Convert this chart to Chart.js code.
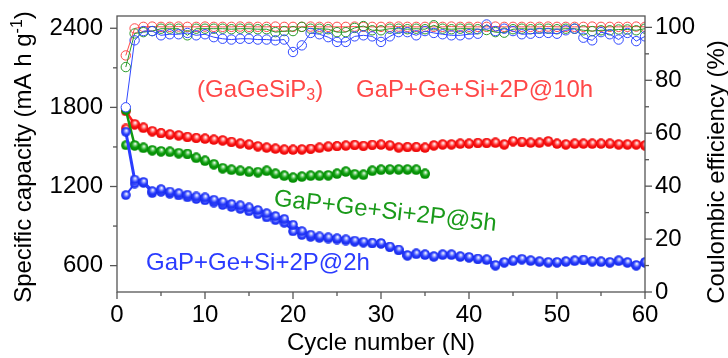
<!DOCTYPE html>
<html><head><meta charset="utf-8">
<script src="https://cdn.jsdelivr.net/npm/chart.js@4.4.0/dist/chart.umd.min.js"></script>
<style>html,body{margin:0;padding:0;background:#fff;}#wrap{width:728px;height:358px;}</style>
</head><body><div id="wrap"><canvas id="c" width="728" height="358"></canvas></div>
<script>
// ---------- data ----------
const cycles = [1,2,3,4,5,6,7,8,9,10,11,12,13,14,15,16,17,18,19,20,21,22,23,24,25,26,27,28,29,30,
                31,32,33,34,35,36,37,38,39,40,41,42,43,44,45,46,47,48,49,50,51,52,53,54,55,56,57,58,59,60];

const red10hDischarge = [1770,1675,1648,1622,1607,1597,1590,1578,1570,1565,
 1557,1552,1540,1528,1521,1507,1497,1489,1482,1481,
 1483,1488,1496,1505,1508,1512,1517,1510,1518,1520,
 1514,1498,1501,1501,1496,1514,1521,1521,1527,1527,
 1532,1532,1534,1521,1546,1540,1534,1534,1545,1527,
 1521,1527,1527,1527,1527,1527,1521,1521,1521,1514];
const red10hCharge = [1640,1668,1642,1617,1602,1592,1585,1573,1566,1560,
 1553,1547,1536,1524,1516,1503,1493,1485,1478,1477,
 1479,1484,1491,1500,1504,1508,1512,1506,1513,1515,
 1509,1494,1497,1496,1492,1509,1516,1517,1522,1523,
 1527,1528,1529,1517,1541,1535,1530,1529,1540,1523,
 1517,1522,1523,1522,1523,1522,1517,1516,1517,1510];

const green5hDischarge = [1780,1515,1496,1478,1470,1466,1456,1450,1420,1398,
 1372,1342,1330,1322,1315,1312,1322,1300,1285,1270,
 1278,1285,1285,1288,1300,1316,1296,1292,1322,1330,
 1332,1332,1332,1330,1299];
const green5hCharge = [1513,1508,1490,1472,1464,1460,1450,1444,1414,1392,
 1366,1336,1324,1316,1309,1306,1316,1294,1279,1264,
 1272,1279,1279,1282,1294,1310,1290,1286,1316,1324,
 1326,1326,1326,1324,1293];

const blue2hDischarge = [1615,1253,1235,1165,1180,1162,1150,1138,1125,1118,
 1100,1085,1068,1058,1042,1022,998,976,955,910,
 862,835,822,815,808,800,790,782,774,772,
 745,722,680,692,686,672,686,686,672,666,
 654,648,605,628,640,652,641,634,628,628,
 634,640,646,636,633,628,640,627,605,627];
const blue2hCharge = [1135,1222,1228,1150,1160,1145,1132,1118,1105,1095,
 1078,1060,1045,1030,1012,990,965,945,925,860,
 832,818,810,805,798,790,782,775,768,765,
 740,716,675,686,680,667,680,680,666,660,
 648,642,600,622,634,646,635,628,622,622,
 628,634,640,630,627,622,634,621,600,621];

const red10hCE = [89.4,99.6,100.2,100.3,100.2,100.2,100.3,100.2,100.2,100.3,
 100.2,100.2,100.2,100.3,100.2,100.2,100.2,100.3,100.2,100.2,
 100.2,100.3,100.2,100.2,100.2,100.2,100.3,100.2,100.2,100.2,
 100.2,100.3,100.2,100.2,100.2,100.2,100.2,100.3,100.2,100.2,
 100.2,100.2,100.3,100.2,100.2,100.2,100.2,100.2,100.3,100.2,
 100.2,100.2,100.2,100.3,100.2,100.2,100.2,100.2,100.3,100.2];
const green5hCE = [85.0,97.7,98.2,98.6,99.5,99.5,99.5,97.0,99.5,99.5,
 99.5,99.5,99.3,99.5,99.5,99.3,99.3,98.2,98.6,98.6,
 100.2,99.5,99.5,99.3,98.2,98.2,99.8,100.5,98.9,98.9,
 99.5,99.5,99.3,99.5,99.3,100.8,99.5,99.3,99.5,99.5,
 99.3,99.0,98.2,98.0,99.3,99.5,99.3,99.5,99.5,99.3,
 99.5,99.5,98.9,98.6,98.9,98.9,99.2,99.2,98.9,99.5];
const blue2hCE = [69.8,95.1,98.6,98.6,97.0,97.4,97.4,97.9,97.0,97.4,
 96.3,95.7,95.4,95.7,95.7,95.4,95.4,95.1,95.4,90.7,
 93.2,97.9,97.4,96.3,94.5,94.5,96.6,97.0,96.6,94.5,
 96.6,98.2,98.2,97.0,98.6,97.9,97.4,97.0,97.0,97.4,
 97.6,101.1,98.6,99.5,98.6,97.4,97.6,97.9,97.9,97.6,
 98.9,99.5,96.1,95.1,98.2,97.4,95.4,97.9,94.8,96.6];

const xTicks = [0,10,20,30,40,50,60];
const xMinor = [5,15,25,35,45,55];
const capTicks = [600,1200,1800,2400];
const capMinor = [900,1500,2100];
const ceTicks = [0,20,40,60,80,100];
const ceMinor = [10,30,50,70,90];

// ---------- styling ----------
const FONT = '"Liberation Sans", Arial, sans-serif';
const RED = '#ff1e1e', GREEN = '#119a11', BLUE = '#2a3cff';

function makeBall(light, base, dark) {
  const s = 10, c = document.createElement('canvas');
  c.width = s; c.height = s;
  const g = c.getContext('2d');
  const r = 4.8, cx = 5, cy = 5;
  const grd = g.createRadialGradient(cx + 0.7, cy - 1.3, 0.2, cx, cy, r);
  grd.addColorStop(0, '#ffffff');
  grd.addColorStop(0.28, light);
  grd.addColorStop(0.6, base);
  grd.addColorStop(1, dark);
  g.fillStyle = grd;
  g.beginPath(); g.arc(cx, cy, r, 0, Math.PI * 2); g.fill();
  return c;
}
const redBall = makeBall('#ff9a9a', '#ff2222', '#e80000');
const greenBall = makeBall('#7fd47f', '#14a014', '#008a00');
const blueBall = makeBall('#9aa6ff', '#2f42ff', '#1428e8');

const pts = (arr) => arr.map((v, i) => ({x: cycles[i], y: v}));

function capSet(label, data, color, ball, width, order) {
  return {label, data: pts(data), yAxisID: 'y', order,
    borderColor: color, borderWidth: width, showLine: true, tension: 0,
    pointStyle: ball, pointRadius: 5, pointHoverRadius: 5};
}
function ceSet(label, data, color, order, firstFill) {
  return {label, data: pts(data), yAxisID: 'y2', order,
    borderColor: color, borderWidth: 1, showLine: true, tension: 0,
    pointStyle: 'circle', pointRadius: 4.7, pointBorderWidth: 1, pointBorderColor: color,
    pointBackgroundColor: (ctx) => (firstFill && ctx.dataIndex === 0) ? '#ffffff' : 'rgba(255,255,255,0)'};
}

const datasets = [
  ceSet('CE @2h', blue2hCE, '#3048ff', 0, true),
  ceSet('CE @5h', green5hCE, '#2a9a2a', 1, false),
  ceSet('CE @10h', red10hCE, '#ff4a4a', 2, false),
  capSet('@2h discharge', blue2hDischarge, BLUE, blueBall, 3, 3),
  capSet('@2h charge', blue2hCharge, BLUE, blueBall, 2, 4),
  capSet('@5h discharge', green5hDischarge, GREEN, greenBall, 2.5, 5),
  capSet('@5h charge', green5hCharge, GREEN, greenBall, 2, 6),
  capSet('@10h discharge', red10hDischarge, RED, redBall, 2.5, 7),
  capSet('@10h charge', red10hCharge, RED, redBall, 2, 8)
];

function drawParts(ctx, parts, x, y) {
  let cx = x;
  for (const p of parts) {
    ctx.font = p.size + 'px ' + FONT;
    ctx.fillText(p.t, cx, y + (p.dy || 0));
    cx += ctx.measureText(p.t).width;
  }
}
function partsWidth(ctx, parts) {
  let w = 0;
  for (const p of parts) { ctx.font = p.size + 'px ' + FONT; w += ctx.measureText(p.t).width; }
  return w;
}

const overlay = {
  id: 'overlay',
  afterDatasetsDraw(chart) {
    const {ctx, chartArea: a, scales} = chart;
    ctx.save();
    ctx.strokeStyle = '#555'; ctx.lineWidth = 1.3;
    ctx.strokeRect(a.left, a.top, a.right - a.left, a.bottom - a.top);
    const tick = (scale, vals, len, side) => {
      for (const v of vals) {
        const p = scale.getPixelForValue(v);
        ctx.beginPath();
        if (side === 'left') { ctx.moveTo(a.left - len, p); ctx.lineTo(a.left, p); }
        else if (side === 'right') { ctx.moveTo(a.right, p); ctx.lineTo(a.right + len, p); }
        else { ctx.moveTo(p, a.bottom); ctx.lineTo(p, a.bottom + len); }
        ctx.stroke();
      }
    };
    tick(scales.y, capTicks, 7, 'left'); tick(scales.y, capMinor, 4, 'left');
    tick(scales.y2, ceTicks, 7, 'right'); tick(scales.y2, ceMinor, 4, 'right');
    tick(scales.x, xTicks, 7, 'bottom'); tick(scales.x, xMinor, 4, 'bottom');

    // annotations
    ctx.textBaseline = 'middle'; ctx.textAlign = 'left';
    ctx.fillStyle = '#ff4848';
    drawParts(ctx, [{t: '(GaGeSiP', size: 24}, {t: '3', size: 16, dy: 6}, {t: ')', size: 24}], 197, 90);
    ctx.font = '24px ' + FONT;
    ctx.fillText('GaP+Ge+Si+2P@10h', 356, 90);
    ctx.fillStyle = '#1a9a1a';
    ctx.save(); ctx.translate(274, 199); ctx.rotate(6.5 * Math.PI / 180);
    ctx.fillText('GaP+Ge+Si+2P@5h', 0, 0); ctx.restore();
    ctx.fillStyle = '#2b3cff';
    ctx.fillText('GaP+Ge+Si+2P@2h', 146, 263);

    // y titles (rotated)
    ctx.fillStyle = '#000'; ctx.textBaseline = 'alphabetic';
    const lt = [{t: 'Specific capacity (mA h g', size: 24}, {t: '-1', size: 16, dy: -9}, {t: ')', size: 24}];
    ctx.save(); ctx.translate(31, 157); ctx.rotate(-Math.PI / 2);
    drawParts(ctx, lt, -partsWidth(ctx, lt) / 2, 0); ctx.restore();
    const rt = [{t: 'Coulombic efficiency (%)', size: 24}];
    ctx.save(); ctx.translate(724, 172); ctx.rotate(-Math.PI / 2);
    drawParts(ctx, rt, -partsWidth(ctx, rt) / 2, 0); ctx.restore();
    ctx.restore();
  }
};

Chart.defaults.font.family = FONT;
Chart.defaults.color = '#000';

const noPadV = (s, w) => { s.width = w; s.paddingTop = 0; s.paddingBottom = 0; };

new Chart(document.getElementById('c'), {
  type: 'scatter',
  data: {datasets},
  options: {
    responsive: false, animation: false, devicePixelRatio: 1,
    layout: {padding: {top: 16, left: 0, right: 0, bottom: 0}},
    plugins: {legend: {display: false}, tooltip: {enabled: false}},
    scales: {
      x: {type: 'linear', min: 0, max: 60, position: 'bottom',
        grid: {display: false, drawTicks: false}, border: {display: false},
        afterBuildTicks: (s) => { s.ticks = xTicks.map(v => ({value: v})); },
        ticks: {font: {size: 24}, padding: 9, maxRotation: 0, callback: (v) => String(v)},
        title: {display: true, text: 'Cycle number (N)', font: {size: 24}, padding: {top: 0, bottom: 0}},
        afterFit: (s) => { s.height = 66; s.paddingLeft = 0; s.paddingRight = 0; }},
      y: {type: 'linear', min: 400, max: 2493, position: 'left',
        grid: {display: false, drawTicks: false}, border: {display: false},
        afterBuildTicks: (s) => { s.ticks = capTicks.map(v => ({value: v})); },
        ticks: {font: {size: 24}, padding: 14, callback: (v) => String(v)},
        afterFit: (s) => noPadV(s, 117)},
      y2: {type: 'linear', min: 0, max: 104.3, position: 'right',
        grid: {display: false, drawTicks: false}, border: {display: false},
        afterBuildTicks: (s) => { s.ticks = ceTicks.map(v => ({value: v})); },
        ticks: {font: {size: 24}, padding: 10, callback: (v) => String(v)},
        afterFit: (s) => noPadV(s, 83)}
    }
  },
  plugins: [overlay]
});
</script></body></html>
